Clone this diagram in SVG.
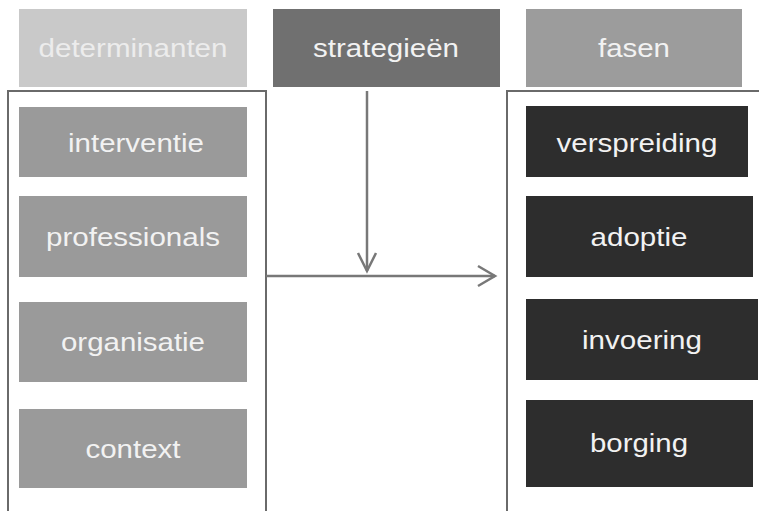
<svg xmlns="http://www.w3.org/2000/svg" width="759" height="511" viewBox="0 0 759 511">
<style>
text{font-family:"Liberation Sans",Arial,sans-serif;font-size:25px;text-anchor:middle;fill:#f2f2f2}
.hd1{fill:#c9c9c9}.hd2{fill:#707070}.hd3{fill:#9c9c9c}
.det{fill:#9a9a9a}.fas{fill:#2d2d2d}
.cont{fill:none;stroke:#6a6a6a;stroke-width:2}
.conn{fill:none;stroke:#787878;stroke-width:2.5}
</style>
<rect width="759" height="511" fill="#ffffff"/>
<g id="containers">
<path class="cont" d="M8,511 V91 H266 V511"/>
<path class="cont" d="M507,511 V91 H759"/>
</g>
<g id="header-determinanten"><rect class="hd1" x="19" y="9" width="228" height="78"/><text x="133" y="57" textLength="189" lengthAdjust="spacingAndGlyphs" style="fill:#ececec">determinanten</text></g>
<g id="header-strategieen"><rect class="hd2" x="273" y="9" width="227" height="78"/><text x="386" y="57" textLength="146" lengthAdjust="spacingAndGlyphs">strategieën</text></g>
<g id="header-fasen"><rect class="hd3" x="526" y="9" width="216" height="78"/><text x="634" y="57" textLength="72" lengthAdjust="spacingAndGlyphs">fasen</text></g>
<g id="interventie"><rect class="det" x="19" y="107" width="228" height="70"/><text x="136" y="152" textLength="136" lengthAdjust="spacingAndGlyphs">interventie</text></g>
<g id="professionals"><rect class="det" x="19" y="196" width="228" height="81"/><text x="133" y="246" textLength="174" lengthAdjust="spacingAndGlyphs">professionals</text></g>
<g id="organisatie"><rect class="det" x="19" y="302" width="228" height="80"/><text x="133" y="351" textLength="144" lengthAdjust="spacingAndGlyphs">organisatie</text></g>
<g id="context"><rect class="det" x="19" y="409" width="228" height="79"/><text x="133" y="458" textLength="95" lengthAdjust="spacingAndGlyphs">context</text></g>
<g id="verspreiding"><rect class="fas" x="526" y="106" width="222" height="71"/><text x="637" y="152" textLength="161" lengthAdjust="spacingAndGlyphs">verspreiding</text></g>
<g id="adoptie"><rect class="fas" x="526" y="196" width="227" height="81"/><text x="639" y="246" textLength="97" lengthAdjust="spacingAndGlyphs">adoptie</text></g>
<g id="invoering"><rect class="fas" x="526" y="299" width="232" height="81"/><text x="642" y="349" textLength="120" lengthAdjust="spacingAndGlyphs">invoering</text></g>
<g id="borging"><rect class="fas" x="526" y="400" width="227" height="87"/><text x="639" y="452" textLength="98" lengthAdjust="spacingAndGlyphs">borging</text></g>
<g id="connectors">
<path class="conn" d="M367,91 V271"/>
<path class="conn" d="M358,253 L367,271 L376,253"/>
<path class="conn" d="M266,276 H495"/>
<path class="conn" d="M478,266 L495,276 L478,286"/>
</g>
</svg>
